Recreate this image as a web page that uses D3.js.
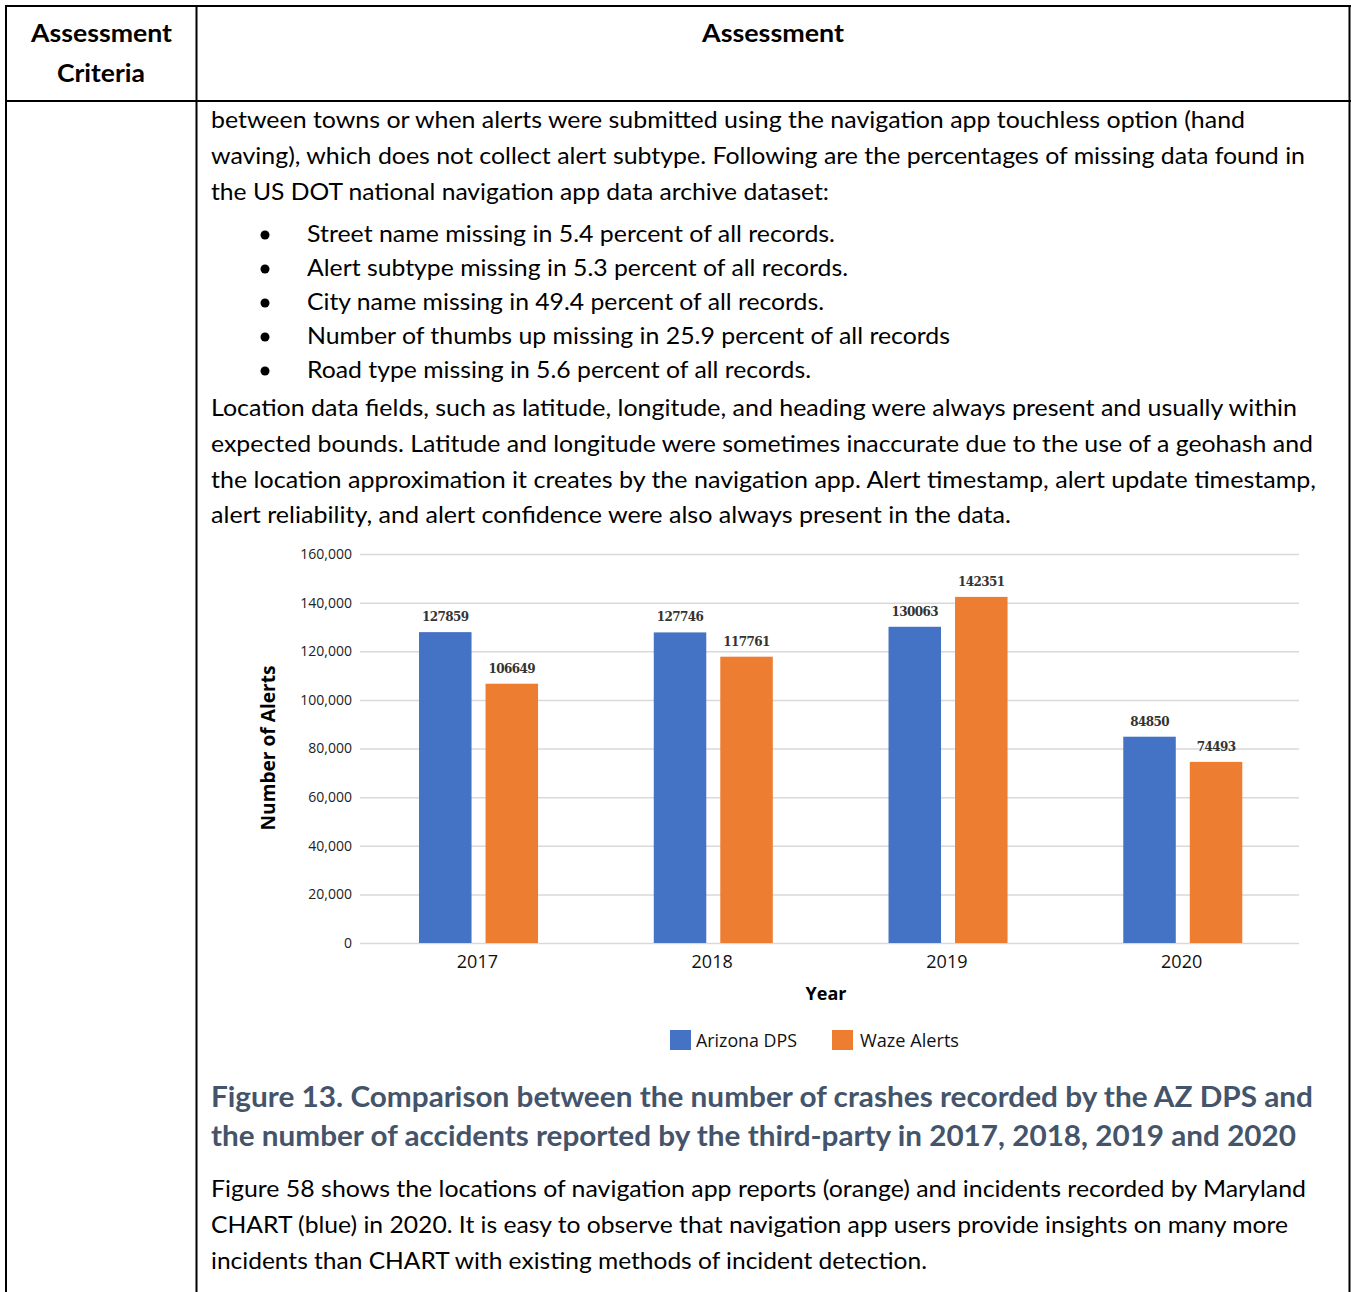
<!DOCTYPE html>
<html>
<head>
<meta charset="utf-8">
<script src="https://cdn.jsdelivr.net/npm/d3@7"></script>
<style>
  html, body { margin: 0; padding: 0; background: #fff; }
  svg { display: block; }
</style>
</head>
<body>
<svg id="page" width="1351" height="1292"></svg>
<script>
// Chart data
const years = ["2017", "2018", "2019", "2020"];
const seriesNames = ["Arizona DPS", "Waze Alerts"];
const arizonaDps = [127859, 127746, 130063, 84850];
const wazeAlerts = [106649, 117761, 142351, 74493];
const yTicks = [0, 20000, 40000, 60000, 80000, 100000, 120000, 140000, 160000];
const seriesColors = ["#4472C4", "#ED7D31"];

// Surrounding document text
const bodyLines = [
  "between towns or when alerts were submitted using the navigation app touchless option (hand",
  "waving), which does not collect alert subtype. Following are the percentages of missing data found in",
  "the US DOT national navigation app data archive dataset:"
];
const bulletLines = [
  "Street name missing in 5.4 percent of all records.",
  "Alert subtype missing in 5.3 percent of all records.",
  "City name missing in 49.4 percent of all records.",
  "Number of thumbs up missing in 25.9 percent of all records",
  "Road type missing in 5.6 percent of all records."
];
const locationLines = [
  "Location data fields, such as latitude, longitude, and heading were always present and usually within",
  "expected bounds. Latitude and longitude were sometimes inaccurate due to the use of a geohash and",
  "the location approximation it creates by the navigation app. Alert timestamp, alert update timestamp,",
  "alert reliability, and alert confidence were also always present in the data."
];
const captionLines = [
  "Figure 13. Comparison between the number of crashes recorded by the AZ DPS and",
  "the number of accidents reported by the third-party in 2017, 2018, 2019 and 2020"
];
const closingLines = [
  "Figure 58 shows the locations of navigation app reports (orange) and incidents recorded by Maryland",
  "CHART (blue) in 2020. It is easy to observe that navigation app users provide insights on many more",
  "incidents than CHART with existing methods of incident detection."
];

const svg = d3.select("#page");
const FONT = "Lato, 'Open Sans', sans-serif";

// ---- table frame ----
const frame = svg.append("g").attr("stroke", "#000").attr("stroke-width", 2);
frame.append("line").attr("x1", 5).attr("x2", 1351).attr("y1", 6).attr("y2", 6);
frame.append("line").attr("x1", 5).attr("x2", 1351).attr("y1", 101).attr("y2", 101);
frame.append("line").attr("x1", 6).attr("x2", 6).attr("y1", 5).attr("y2", 1292);
frame.append("line").attr("x1", 196.5).attr("x2", 196.5).attr("y1", 5).attr("y2", 1292);
frame.append("line").attr("x1", 1349.5).attr("x2", 1349.5).attr("y1", 5).attr("y2", 1292);

function textLine(g, str, x, y, opts = {}) {
  const t = g.append("text")
    .attr("x", x).attr("y", y)
    .attr("font-family", FONT)
    .attr("font-size", opts.size || 23.5)
    .attr("font-weight", opts.weight || "normal")
    .attr("fill", opts.fill || "#000")
    .attr("text-anchor", opts.anchor || "start")
    .text(str);
  if (opts.width) t.attr("textLength", opts.width).attr("lengthAdjust", "spacingAndGlyphs");
  return t;
}

// ---- header ----
const head = svg.append("g");
textLine(head, "Assessment", 101.5, 42, { size: 24, weight: "bold", anchor: "middle", width: 141 });
textLine(head, "Criteria", 101, 82, { size: 24, weight: "bold", anchor: "middle", width: 88 });
textLine(head, "Assessment", 773, 42, { size: 24, weight: "bold", anchor: "middle", width: 142 });

// ---- body text ----
const body = svg.append("g");
const bodyWidths = [1034, 1094, 618];
bodyLines.forEach((s, i) => textLine(body, s, 211, 128 + i * 36, { width: bodyWidths[i] }));

const bulletWidths = [528, 541, 517, 643, 504];
bulletLines.forEach((s, i) => {
  const y = 242 + i * 34;
  body.append("circle").attr("cx", 265).attr("cy", y - 7).attr("r", 4.5).attr("fill", "#000");
  textLine(body, s, 307, y, { width: bulletWidths[i] });
});

const locWidths = [1086, 1102, 1105, 800];
locationLines.forEach((s, i) => textLine(body, s, 211, 416 + i * 35.8, { width: locWidths[i] }));

// ---- chart ----
const plot = { left: 360, right: 1299, top: 554, bottom: 943 };

const x0 = d3.scaleBand().domain(years).range([plot.left, plot.right]).paddingInner(0).paddingOuter(0);
const x1 = d3.scaleBand().domain(seriesNames).range([0, x0.bandwidth()])
  .paddingInner(0.2105).paddingOuter(0.87).align(0.51);
const y = d3.scaleLinear().domain([0, 160000]).range([plot.bottom, plot.top]);

const chart = svg.append("g");

// gridlines + y tick labels via axis
const yAxis = d3.axisLeft(y).tickValues(yTicks)
  .tickSize(-(plot.right - plot.left)).tickPadding(8)
  .tickFormat(d3.format(","));
const yg = chart.append("g").attr("transform", `translate(${plot.left},0)`).call(yAxis);
yg.select(".domain").remove();
yg.selectAll(".tick line").attr("stroke", "#d9d9d9").attr("stroke-width", 1.5);
yg.selectAll(".tick text")
  .attr("font-family", "'Open Sans', sans-serif").attr("font-size", 14)
  .attr("fill", "#222");

// x axis (labels only)
const xAxis = d3.axisBottom(x0).tickSize(0).tickPadding(12);
const xg = chart.append("g").attr("transform", `translate(0,${plot.bottom})`).call(xAxis);
xg.select(".domain").remove();
xg.selectAll(".tick text")
  .attr("font-family", "'Open Sans', sans-serif").attr("font-size", 18).attr("fill", "#111");

// bars
const rows = years.map((yr, i) => ({ year: yr, values: [arizonaDps[i], wazeAlerts[i]] }));
const groups = chart.selectAll("g.year").data(rows).join("g")
  .attr("class", "year")
  .attr("transform", d => `translate(${x0(d.year)},0)`);

groups.selectAll("rect").data(d => d.values.map((v, k) => ({ key: seriesNames[k], v, k })))
  .join("rect")
  .attr("x", d => x1(d.key))
  .attr("width", x1.bandwidth())
  .attr("y", d => y(d.v))
  .attr("height", d => y(0) - y(d.v))
  .attr("fill", d => seriesColors[d.k]);

groups.selectAll("text.val").data(d => d.values.map((v, k) => ({ key: seriesNames[k], v, k })))
  .join("text")
  .attr("class", "val")
  .attr("x", d => x1(d.key) + x1.bandwidth() / 2)
  .attr("y", d => y(d.v) - 11)
  .attr("text-anchor", "middle")
  .attr("font-family", "'DejaVu Serif', serif")
  .attr("font-size", 12)
  .attr("font-weight", "bold")
  .attr("letter-spacing", "-0.6")
  .attr("fill", "#333")
  .text(d => d.v);

// axis titles
chart.append("text")
  .attr("transform", `translate(275,748) rotate(-90)`)
  .attr("text-anchor", "middle")
  .attr("font-family", "'Open Sans', sans-serif").attr("font-weight", "bold")
  .attr("font-size", 19).attr("fill", "#000")
  .attr("textLength", 165).attr("lengthAdjust", "spacingAndGlyphs")
  .text("Number of Alerts");

chart.append("text")
  .attr("x", 826).attr("y", 1000)
  .attr("text-anchor", "middle")
  .attr("font-family", "'Open Sans', sans-serif").attr("font-weight", "bold")
  .attr("font-size", 18).attr("fill", "#000")
  .text("Year");

// legend
const legendX = [670, 832];
const legendTextW = [101, 99];
const legend = chart.append("g");
seriesNames.forEach((name, i) => {
  legend.append("rect").attr("x", legendX[i]).attr("y", 1030).attr("width", 21).attr("height", 20)
    .attr("fill", seriesColors[i]);
  legend.append("text").attr("x", legendX[i] + (i === 0 ? 26 : 28)).attr("y", 1047)
    .attr("font-family", "'Open Sans', sans-serif").attr("font-size", 17.5).attr("fill", "#111")
    .attr("textLength", legendTextW[i]).attr("lengthAdjust", "spacingAndGlyphs")
    .text(name);
});

// ---- caption ----
const cap = svg.append("g");
const capWidths = [1102, 1085];
captionLines.forEach((s, i) => textLine(cap, s, 211, 1107 + i * 39,
  { size: 28, weight: "bold", fill: "#44546A", width: capWidths[i] }));

// ---- closing paragraph ----
const closeWidths = [1095, 1077, 716];
closingLines.forEach((s, i) => textLine(body, s, 211, 1197 + i * 36, { width: closeWidths[i] }));
</script>
</body>
</html>
